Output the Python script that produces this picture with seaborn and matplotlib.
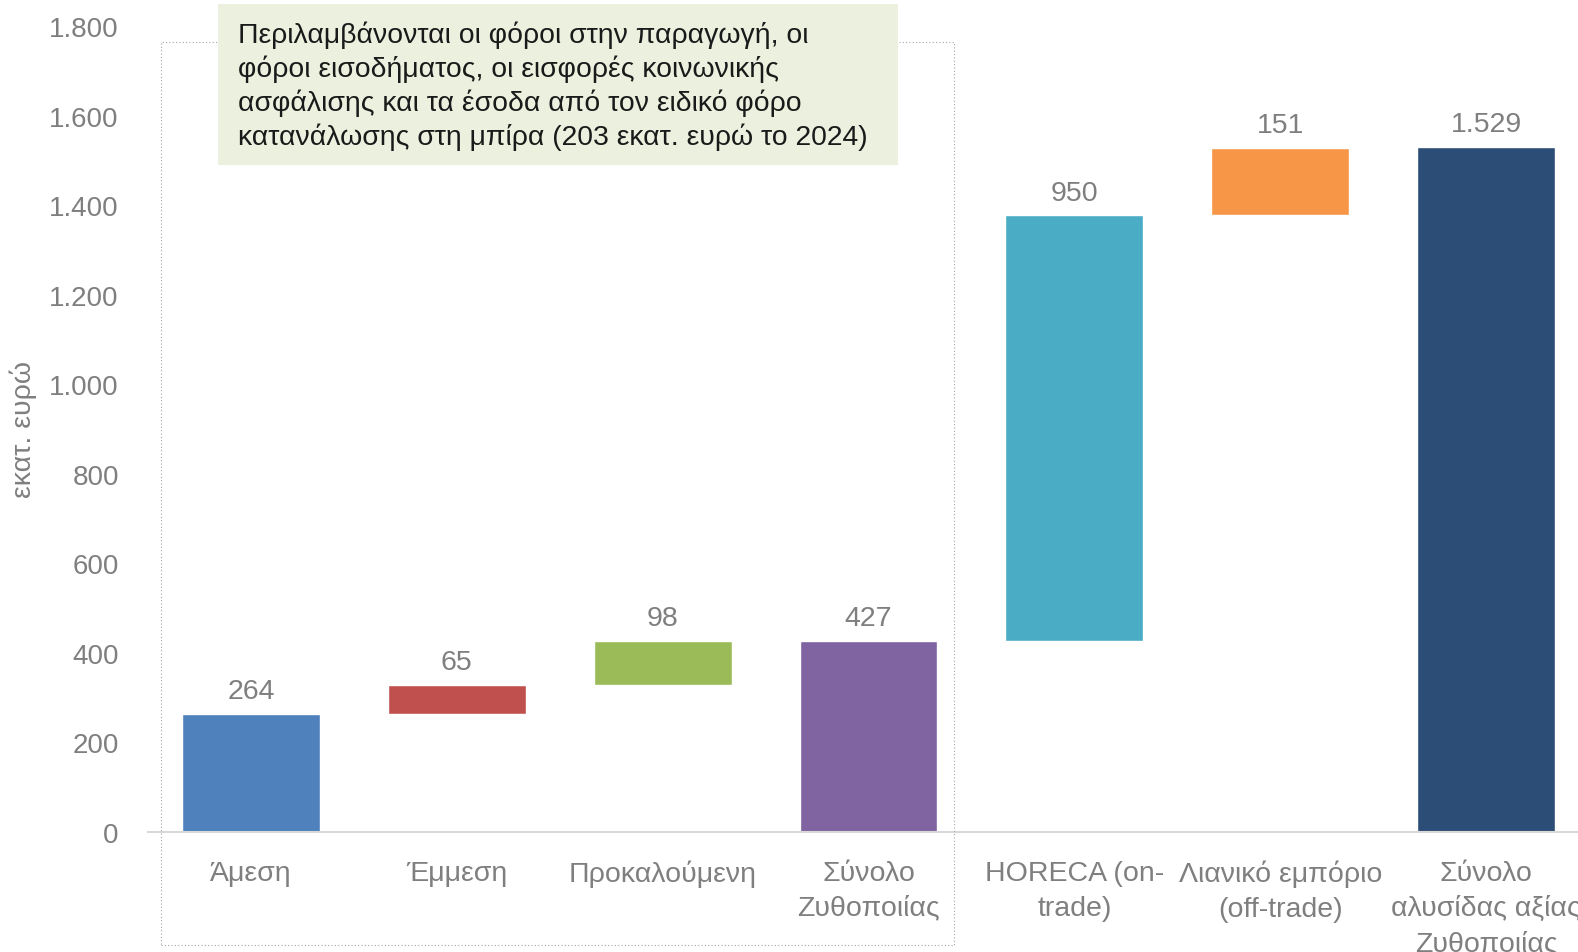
import matplotlib
matplotlib.use("Agg")
import matplotlib.pyplot as plt
import matplotlib.ticker as mticker
from matplotlib.patches import Rectangle
import seaborn as sns
import pandas as pd

categories = ["Άμεση", "Έμμεση", "Προκαλούμενη", "Σύνολο\nΖυθοποιίας",
              "HORECA (on-\ntrade)", "Λιανικό εμπόριο\n(off-trade)",
              "Σύνολο\nαλυσίδας αξίας\nΖυθοποιίας"]
values = [264, 65, 98, 427, 950, 151, 1529]
bottoms = [0, 264, 329, 0, 427, 1377, 0]
colors = ["#4F81BD", "#C0504D", "#9BBB59", "#8064A2", "#4BACC6", "#F79646", "#2C4D75"]
note = ("Περιλαμβάνονται οι φόροι στην παραγωγή, οι\n"
        "φόροι εισοδήματος, οι εισφορές κοινωνικής\n"
        "ασφάλισης και τα έσοδα από τον ειδικό φόρο\n"
        "κατανάλωσης στη μπίρα (203 εκατ. ευρώ το 2024)")

sns.set_theme(style="white")
plt.rcParams["font.family"] = ["Liberation Sans", "DejaVu Sans"]
grey = "#7F7F7F"
W, H = 1578, 953

df = pd.DataFrame({"cat": categories, "val": values})

fig = plt.figure(figsize=(W / 100, H / 100), dpi=100)
ax = fig.add_axes([148 / W, 120 / H, 1441 / W, 806 / H])

sns.barplot(data=df, x="cat", y="val", hue="cat", palette=colors,
            dodge=False, legend=False, width=0.67, saturation=1, ax=ax)

# turn it into a waterfall
for patch, b, v in zip(ax.patches, bottoms, values):
    patch.set_y(b)
    patch.set_height(v)
    ax.text(patch.get_x() + patch.get_width() / 2, b + v + 22, f"{v:,}".replace(",", "."),
            ha="center", va="bottom", fontsize=20.5, color=grey)

ax.set_xlim(-0.5, 6.5)
ax.set_ylim(0, 1800)
ax.yaxis.set_major_locator(mticker.MultipleLocator(200))
ax.yaxis.set_major_formatter(mticker.FuncFormatter(lambda v, p: f"{int(v):,}".replace(",", ".")))
ax.tick_params(axis="y", labelsize=20, labelcolor=grey, length=0, pad=21)
ax.tick_params(axis="x", labelsize=20.5, labelcolor=grey, length=0, pad=20)
for lab in ax.get_xticklabels():
    lab.set_linespacing(1.45)
    lab.set_verticalalignment("top")
ax.set_xlabel("")
ax.set_ylabel("εκατ. ευρώ", fontsize=20.5, color=grey)
ax.yaxis.set_label_coords(-0.077, 0.5)

for s in ["top", "right", "left"]:
    ax.spines[s].set_visible(False)
ax.spines["bottom"].set_color("#D9D9D9")
ax.spines["bottom"].set_linewidth(1.5)

# dotted frame around the production side
fig.patches.append(Rectangle((161 / W, 7 / H), 793 / W, 903 / H,
                             transform=fig.transFigure, fill=False,
                             edgecolor="#A6A6A6", linestyle=(0, (1, 2)), linewidth=0.8))

# note box
fig.patches.append(Rectangle((218 / W, 787 / H), 680 / W, 161 / H,
                             transform=fig.transFigure, facecolor="#EBF1DE",
                             edgecolor="none", zorder=5))
fig.text(238 / W, 867 / H, note, fontsize=20.4, color="#1A1A1A",
         va="center", ha="left", linespacing=1.3, zorder=6)

fig.savefig("out.png", dpi=100)
